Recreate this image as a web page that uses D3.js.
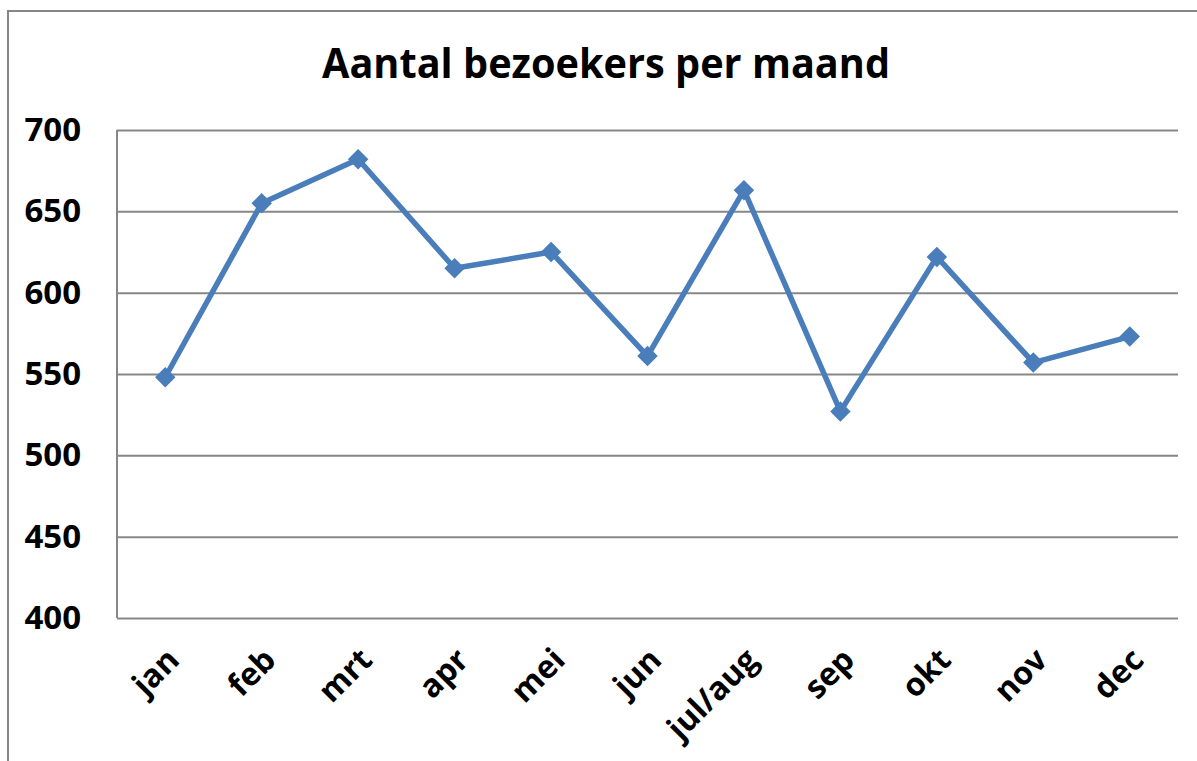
<!DOCTYPE html>
<html>
<head>
<meta charset="utf-8">
<script src="https://cdn.jsdelivr.net/npm/d3@7"></script>
<style>
  body { margin: 0; background: #fff; }
  text { font-family: "Open Sans", "Noto Sans", sans-serif; font-weight: bold; fill: #000; }
</style>
</head>
<body>
<div id="chart"></div>
<script>
// Chart data
const months = ["jan", "feb", "mrt", "apr", "mei", "jun", "jul/aug", "sep", "okt", "nov", "dec"];
const visitors = [548, 655, 682, 615, 625, 561, 663, 527, 622, 557, 573];
const yTicks = [400, 450, 500, 550, 600, 650, 700];
const title = "Aantal bezoekers per maand";

const W = 1197, H = 761;
const plot = { left: 117, right: 1178, top: 130, bottom: 618 };

const svg = d3.select("#chart")
    .append("svg")
    .attr("width", W)
    .attr("height", H);

// Outer chart border (only top and left visible)
svg.append("rect")
    .attr("x", 8)
    .attr("y", 11)
    .attr("width", 1400)
    .attr("height", 1000)
    .attr("fill", "none")
    .attr("stroke", "#868686")
    .attr("stroke-width", 2);

// Scales
const x = d3.scaleBand()
    .domain(months)
    .range([plot.left, plot.right]);

const y = d3.scaleLinear()
    .domain([400, 700])
    .range([plot.bottom, plot.top]);

// Gridlines + y labels
const yAxis = svg.append("g")
    .attr("transform", `translate(${plot.left},0)`)
    .call(d3.axisLeft(y).tickValues(yTicks).tickSize(-(plot.right - plot.left)).tickPadding(36));
yAxis.select(".domain").remove();
yAxis.selectAll(".tick line")
    .attr("stroke", "#878787")
    .attr("stroke-width", 2);
yAxis.selectAll(".tick text")
    .style("font-size", "33px")
    .style("font-family", "'Open Sans', sans-serif")
    .style("font-weight", "bold")
    .attr("fill", "#000");

// Left axis line
svg.append("line")
    .attr("x1", plot.left).attr("x2", plot.left)
    .attr("y1", plot.top).attr("y2", plot.bottom)
    .attr("stroke", "#878787")
    .attr("stroke-width", 2);

// X labels, rotated
svg.selectAll(".xlabel")
    .data(months)
    .enter()
    .append("text")
    .attr("class", "xlabel")
    .attr("transform", d => `translate(${x(d) + x.bandwidth() / 2 + 8},${plot.bottom + 36}) rotate(-45)`)
    .attr("text-anchor", "end")
    .attr("dy", "0.35em")
    .style("font-size", "32px")
    .text(d => d);

// Line
const line = d3.line()
    .x((d, i) => x(months[i]) + x.bandwidth() / 2)
    .y(d => y(d));

svg.append("path")
    .datum(visitors)
    .attr("fill", "none")
    .attr("stroke", "#4a7ebb")
    .attr("stroke-width", 5.5)
    .attr("stroke-linejoin", "round")
    .attr("d", line);

// Diamond markers
svg.selectAll(".marker")
    .data(visitors)
    .enter()
    .append("path")
    .attr("class", "marker")
    .attr("d", d3.symbol().type(d3.symbolSquare).size(210))
    .attr("transform", (d, i) => `translate(${x(months[i]) + x.bandwidth() / 2},${y(d)}) rotate(45)`)
    .attr("fill", "#4a7ebb");

// Title
const t = svg.append("text")
    .attr("x", 606)
    .attr("y", 78)
    .attr("text-anchor", "middle")
    .style("font-size", "42px")
    .text(title);
const tw = t.node().getComputedTextLength();
if (tw > 568) t.attr("textLength", 568).attr("lengthAdjust", "spacingAndGlyphs");
</script>
</body>
</html>
